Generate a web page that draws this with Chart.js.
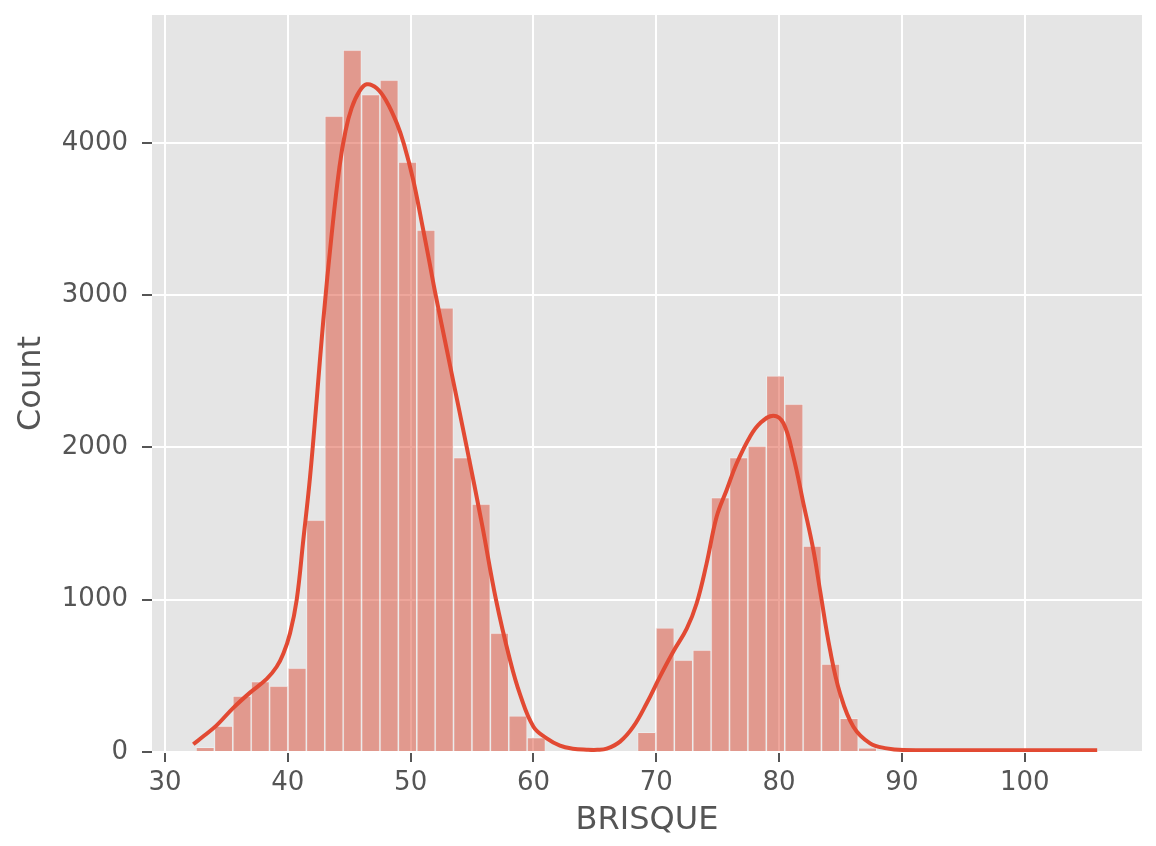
<!DOCTYPE html>
<html>
<head>
<meta charset="utf-8">
<script src="https://cdn.jsdelivr.net/npm/chart.js@4.4.1/dist/chart.umd.min.js"></script>
<style>
html,body{margin:0;padding:0;background:#ffffff;}
#wrap{width:1156px;height:846px;}
</style>
</head>
<body>
<div id="wrap"><canvas id="c" width="1156" height="846"></canvas></div>
<script>
// Histogram bin centers (BRISQUE) and counts
const binCenters = [33.27, 34.77, 36.27, 37.76, 39.26, 40.76, 42.26, 43.76, 45.25, 46.75,
  48.25, 49.75, 51.25, 52.74, 54.24, 55.74, 57.24, 58.74, 60.23, 61.73,
  63.23, 64.73, 66.23, 67.72, 69.22, 70.72, 72.22, 73.72, 75.21, 76.71,
  78.21, 79.71, 81.21, 82.70, 84.20, 85.70, 87.20, 88.70, 90.19, 91.69,
  93.19, 94.69, 96.19, 97.68, 99.18, 100.68, 102.18, 103.68, 105.17];
const counts = [30, 171, 368, 462, 433, 551, 1523, 4176, 4609, 4318,
  4412, 3874, 3427, 2917, 1933, 1628, 781, 238, 94, 0,
  0, 0, 0, 0, 129, 816, 604, 670, 1670, 1933,
  2009, 2471, 2285, 1353, 578, 221, 28, 0, 0, 0,
  0, 0, 0, 0, 0, 0, 0, 0, 2];

// KDE curve (x value, count scale)
const kdeX = [32.3, 33.2, 34.2, 35.56, 36.92, 38.28, 39.09, 39.63, 40.18, 40.72,
  41.26, 41.81, 42.35, 42.89, 43.57, 44.2, 44.7, 45.2, 45.8, 46.42, 47.24,
  48.05, 48.87, 49.46, 50.2, 50.9, 51.5, 51.99, 52.67, 53.28, 54.57,
  55.8, 56.95, 58.09, 58.9, 60.0, 61.08, 62.16, 63.2,
  64.34, 65.2, 65.97, 67.05, 68.13, 69.22, 70.3, 71.39, 72.48, 73.29,
  74.1, 74.92, 75.73, 76.55, 77.63, 78.45, 79.53, 80.35, 81.16, 81.98,
  82.79, 83.33, 84.15, 84.96, 86.05, 87.41, 88.76, 90.12, 95.0, 100.0, 105.9];
const kdeY = [51, 108, 175, 290, 390, 480, 560, 645, 780, 998,
  1392, 1808, 2312, 2837, 3400, 3840, 4080, 4230, 4335, 4385, 4359,
  4271, 4130, 3990, 3760, 3480, 3230, 3020, 2750, 2510, 2000,
  1500, 1000, 604, 380, 166, 90, 42, 22,
  15, 14, 22, 68, 166, 320, 495, 660, 810, 977,
  1239, 1546, 1721, 1896, 2071, 2159, 2209, 2159, 1940, 1633,
  1327, 1064, 670, 386, 166, 57, 24, 13, 12, 12, 12];

const xTicks = [30, 40, 50, 60, 70, 80, 90, 100];
const yTicks = [0, 1000, 2000, 3000, 4000];

const bgPlugin = {
  id: 'bg',
  beforeDraw(chart) {
    const {ctx, chartArea} = chart;
    ctx.save();
    ctx.fillStyle = '#ffffff';
    ctx.fillRect(0, 0, chart.width, chart.height);
    ctx.fillStyle = '#E5E5E5';
    ctx.fillRect(chartArea.left, chartArea.top, chartArea.right - chartArea.left, chartArea.bottom - chartArea.top);
    ctx.restore();
  }
};

const FONT = "'DejaVu Sans', sans-serif";

new Chart(document.getElementById('c'), {
  type: 'bar',
  data: {
    datasets: [
      {
        type: 'line',
        data: kdeX.map((x, i) => ({x: x, y: kdeY[i]})),
        borderColor: '#E24A33',
        borderWidth: 4,
        pointRadius: 0,
        fill: false,
        tension: 0.4,
        order: 1
      },
      {
        type: 'bar',
        data: binCenters.map((x, i) => ({x: x, y: counts[i]})),
        backgroundColor: 'rgba(222,78,56,0.5)',
        borderColor: 'rgba(240,240,240,0.7)',
        borderWidth: 1,
        categoryPercentage: 1.0,
        barPercentage: 1.0,
        grouped: false,
        order: 2
      }
    ]
  },
  options: {
    responsive: false,
    animation: false,
    events: [],
    layout: {padding: {top: 15, right: 14, bottom: 0, left: 0}},
    plugins: {legend: {display: false}, tooltip: {enabled: false}},
    scales: {
      x: {
        type: 'linear',
        min: 28.94,
        max: 109.55,
        offset: false,
        afterFit(scale) { scale.height = 94; scale.paddingLeft = 0; scale.paddingRight = 0; },
        afterBuildTicks(scale) { scale.ticks = xTicks.map(v => ({value: v})); },
        grid: {color: '#ffffff', lineWidth: 2, offset: false, drawTicks: true, tickLength: 10, tickColor: '#555555', tickWidth: 2},
        border: {display: false},
        ticks: {color: '#555555', font: {family: FONT, size: 26}, padding: 6, maxRotation: 0, autoSkip: false,
          callback: v => String(v)},
        title: {display: true, text: 'BRISQUE', color: '#555555', font: {family: FONT, size: 32}, padding: {top: 0, bottom: 6}}
      },
      y: {
        type: 'linear',
        min: 0,
        max: 4840,
        afterFit(scale) { scale.width = 152; scale.paddingTop = 0; scale.paddingBottom = 0; },
        afterBuildTicks(scale) { scale.ticks = yTicks.map(v => ({value: v})); },
        grid: {color: '#ffffff', lineWidth: 2, drawTicks: true, tickLength: 10, tickColor: '#555555', tickWidth: 2},
        border: {display: false},
        ticks: {color: '#555555', font: {family: FONT, size: 26}, padding: 14,
          callback: v => String(v)},
        title: {display: true, text: 'Count', color: '#555555', font: {family: FONT, size: 32}, padding: {top: 12, bottom: 0}}
      }
    }
  },
  plugins: [bgPlugin]
});
</script>
</body>
</html>
